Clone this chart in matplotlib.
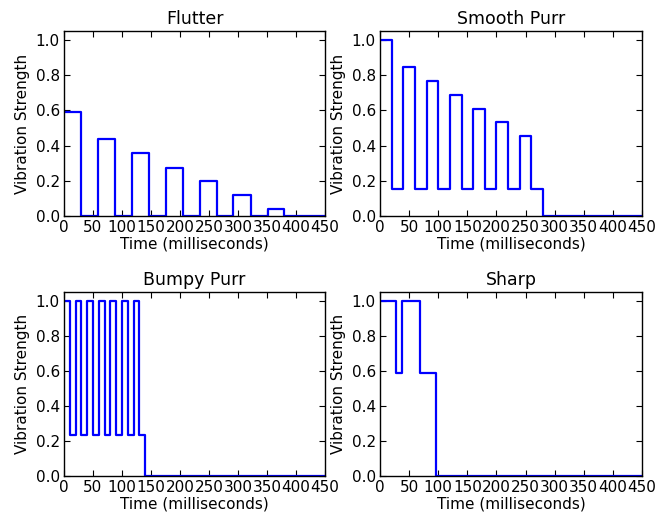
import matplotlib
matplotlib.use("Agg")
import matplotlib.pyplot as plt

# step profiles: time (ms) where each level starts, and the level
flutter_t = [0, 29, 58, 88, 117, 146, 175, 205, 234, 263, 292, 322, 351, 380, 450]
flutter_v = [0.59, 0, 0.435, 0, 0.355, 0, 0.275, 0, 0.2, 0, 0.12, 0, 0.04, 0, 0]

smooth_t = [0, 20, 40, 60, 80, 100, 120, 140, 160, 180, 200, 220, 240, 260, 280, 450]
smooth_v = [1.0, 0.156, 0.846, 0.156, 0.766, 0.156, 0.686, 0.156, 0.61, 0.156,
            0.531, 0.156, 0.452, 0.156, 0, 0]

bumpy_t = [0, 10, 20, 30, 40, 50, 60, 70, 80, 90, 100, 110, 120, 130, 140, 450]
bumpy_v = [1.0, 0.235, 1.0, 0.235, 1.0, 0.235, 1.0, 0.235, 1.0, 0.235,
           1.0, 0.235, 1.0, 0.235, 0, 0]

sharp_t = [0, 28, 38, 68, 96, 450]
sharp_v = [1.0, 0.59, 1.0, 0.59, 0, 0]

titles = ["Flutter", "Smooth Purr", "Bumpy Purr", "Sharp"]
x_ticks = list(range(0, 451, 50))
y_ticks = [0.0, 0.2, 0.4, 0.6, 0.8, 1.0]

series = [(flutter_t, flutter_v), (smooth_t, smooth_v),
          (bumpy_t, bumpy_v), (sharp_t, sharp_v)]

W, H = 669, 513
boxes = [(64, 31, 325, 216), (380, 31, 642, 216),
         (64, 292, 325, 476), (380, 292, 642, 476)]

fig = plt.figure(figsize=(W / 100, H / 100), dpi=100)
for (l, t, r, b), title, (xs, ys) in zip(boxes, titles, series):
    ax = fig.add_axes([l / W, 1 - b / H, (r - l) / W, (b - t) / H])
    ax.plot(xs, ys, drawstyle="steps-post", color="#0000ff", linewidth=1.6)
    ax.set_xlim(0, 450)
    ax.set_ylim(0, 1.05)
    ax.set_xticks(x_ticks)
    ax.set_yticks(y_ticks)
    ax.set_yticklabels([f"{v:.1f}" for v in y_ticks])
    ax.tick_params(direction="in", top=True, right=True, labelsize=11,
                   length=4, pad=3)
    ax.set_title(title, fontsize=12.5, pad=5)
    ax.set_xlabel("Time (milliseconds)", fontsize=11, labelpad=1)
    ax.set_ylabel("Vibration Strength", fontsize=11, labelpad=4)
    for s in ax.spines.values():
        s.set_linewidth(1.0)

fig.savefig("out.png", dpi=100)
